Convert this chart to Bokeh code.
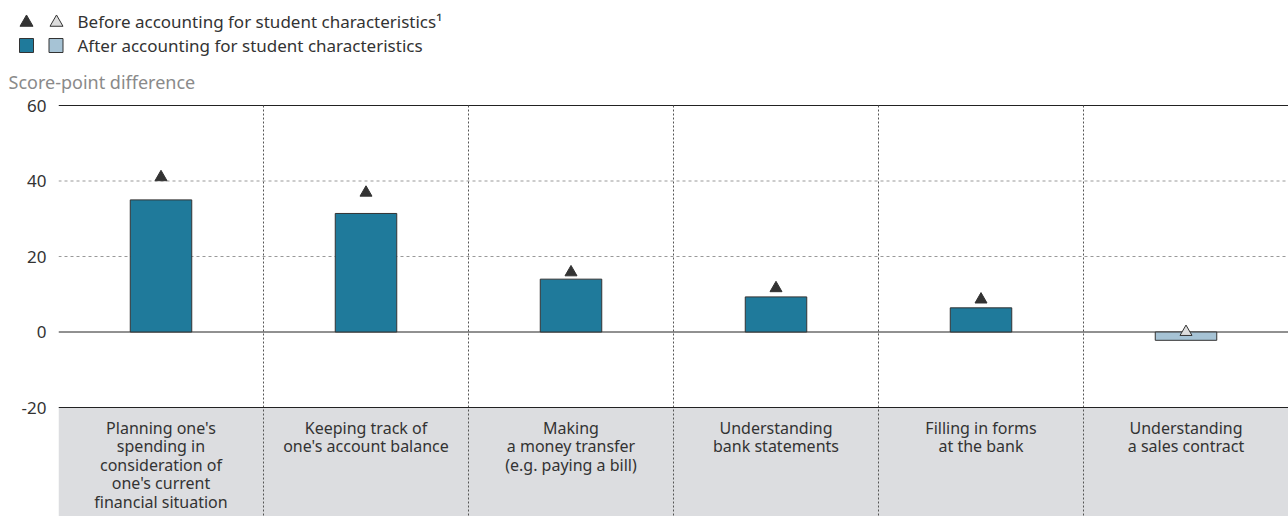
from bokeh.plotting import figure
from bokeh.models import Range1d, FixedTicker, Span, ColumnDataSource
from bokeh.layouts import column
from bokeh.core.properties import value
from bokeh.embed import file_html
from bokeh.resources import INLINE

# ---- data ----
categories = [
    "Planning one's\nspending in\nconsideration of\none's current\nfinancial situation",
    "Keeping track of\none's account balance",
    "Making\na money transfer\n(e.g. paying a bill)",
    "Understanding\nbank statements",
    "Filling in forms\nat the bank",
    "Understanding\na sales contract",
]
before = [41.0, 36.9, 15.8, 11.6, 8.6, 0.0]
after = [35.0, 31.4, 14.0, 9.3, 6.4, -2.2]
significant = [True, True, True, True, True, False]
y_ticks = [-20, 0, 20, 40, 60]
legend_labels = ["Before accounting for student characteristics\u00b9",
                 "After accounting for student characteristics"]
y_title = "Score-point difference"

FONT = "Noto Sans"
BAR_DARK = "#1f7a9b"
BAR_LIGHT = "#a6c3d5"
TRI_DARK = "#333333"
TRI_LIGHT = "#dddddd"
BAND = "#dcdde0"
W = 1288

# ---- legend figure ----
lg = figure(width=W, height=95, output_backend="svg", toolbar_location=None,
            x_range=Range1d(0, W), y_range=Range1d(95, 0),
            x_axis_location=None, y_axis_location=None,
            min_border=0, outline_line_color=None)
lg.frame_align = False
lg.grid.visible = False
lg.scatter(x=[26, 56], y=[22, 22], marker="triangle", size=13,
           fill_color=[TRI_DARK, TRI_LIGHT], line_color="#333333", line_width=1)
lg.scatter(x=[26, 55.5], y=[45, 45], marker="square", size=14,
           fill_color=[BAR_DARK, BAR_LIGHT], line_color="#333333", line_width=1)
lg.text(x=[77, 77], y=[21, 45], text=legend_labels, text_font=value(FONT),
        text_font_size="17px", text_color="#333333", text_baseline="middle")
lg.text(x=[8], y=[81], text=[y_title], text_font=value(FONT),
        text_font_size="18px", text_color="#8a8a8a", text_baseline="middle")

# ---- main figure ----
n = len(categories)
xs = [i + 0.5 for i in range(n)]
bottom_val = -20 - 109 / 3.775
top_val = 60 + 10 / 3.775

p = figure(width=W, height=421, output_backend="svg", toolbar_location=None,
           x_range=Range1d(0, n), y_range=Range1d(bottom_val, top_val),
           x_axis_location=None,
           min_border_left=58, min_border_right=0, min_border_top=0, min_border_bottom=0,
           outline_line_color=None)
p.frame_align = False
p.grid.visible = False
p.yaxis.ticker = FixedTicker(ticks=y_ticks)
p.yaxis.major_label_overrides = {t: str(t) for t in y_ticks}
p.yaxis.axis_line_color = None
p.yaxis.major_tick_line_color = None
p.yaxis.minor_tick_line_color = None
p.yaxis.major_tick_out = 0
p.yaxis.major_tick_in = 0
p.yaxis.major_label_standoff = 12
p.yaxis.major_label_text_font = FONT
p.yaxis.major_label_text_font_size = "17px"
p.yaxis.major_label_text_color = "#333333"

# category band
p.quad(left=[0], right=[n], bottom=[bottom_val - 5], top=[-20],
       fill_color=BAND, line_color=None)

# gridlines
for yv in [20, 40]:
    p.add_layout(Span(location=yv, dimension="width", line_color="#999999",
                      line_dash="3 3", line_width=1, level="underlay"))
for yv in [60, 0]:
    p.add_layout(Span(location=yv, dimension="width", line_color="#222222",
                      line_width=1, level="underlay"))
p.add_layout(Span(location=-20, dimension="width", line_color="#222222", line_width=1))

# vertical separators
seps = list(range(1, n))
p.segment(x0=seps, x1=seps, y0=[60] * len(seps), y1=[bottom_val - 5] * len(seps),
          line_color="#555555", line_dash="2 2", line_width=1)

src = ColumnDataSource(dict(
    x=xs, after=after, before=before,
    bar_color=[BAR_DARK if s else BAR_LIGHT for s in significant],
    tri_color=[TRI_DARK if s else TRI_LIGHT for s in significant],
))
p.vbar(x="x", top="after", bottom=0, width=0.3, source=src,
       fill_color="bar_color", line_color="#333333", line_width=1)
p.scatter(x="x", y="before", marker="triangle", size=12, source=src,
          fill_color="tri_color", line_color="#333333", line_width=1)

p.text(x=xs, y=[-20] * n, text=categories, text_font=value(FONT),
       text_font_size="16px", text_color="#333333", text_align="center",
       text_baseline="top", y_offset=9, text_line_height=0.843)

layout = column(lg, p, spacing=0)
open("out.html", "w").write(file_html(layout, INLINE))
